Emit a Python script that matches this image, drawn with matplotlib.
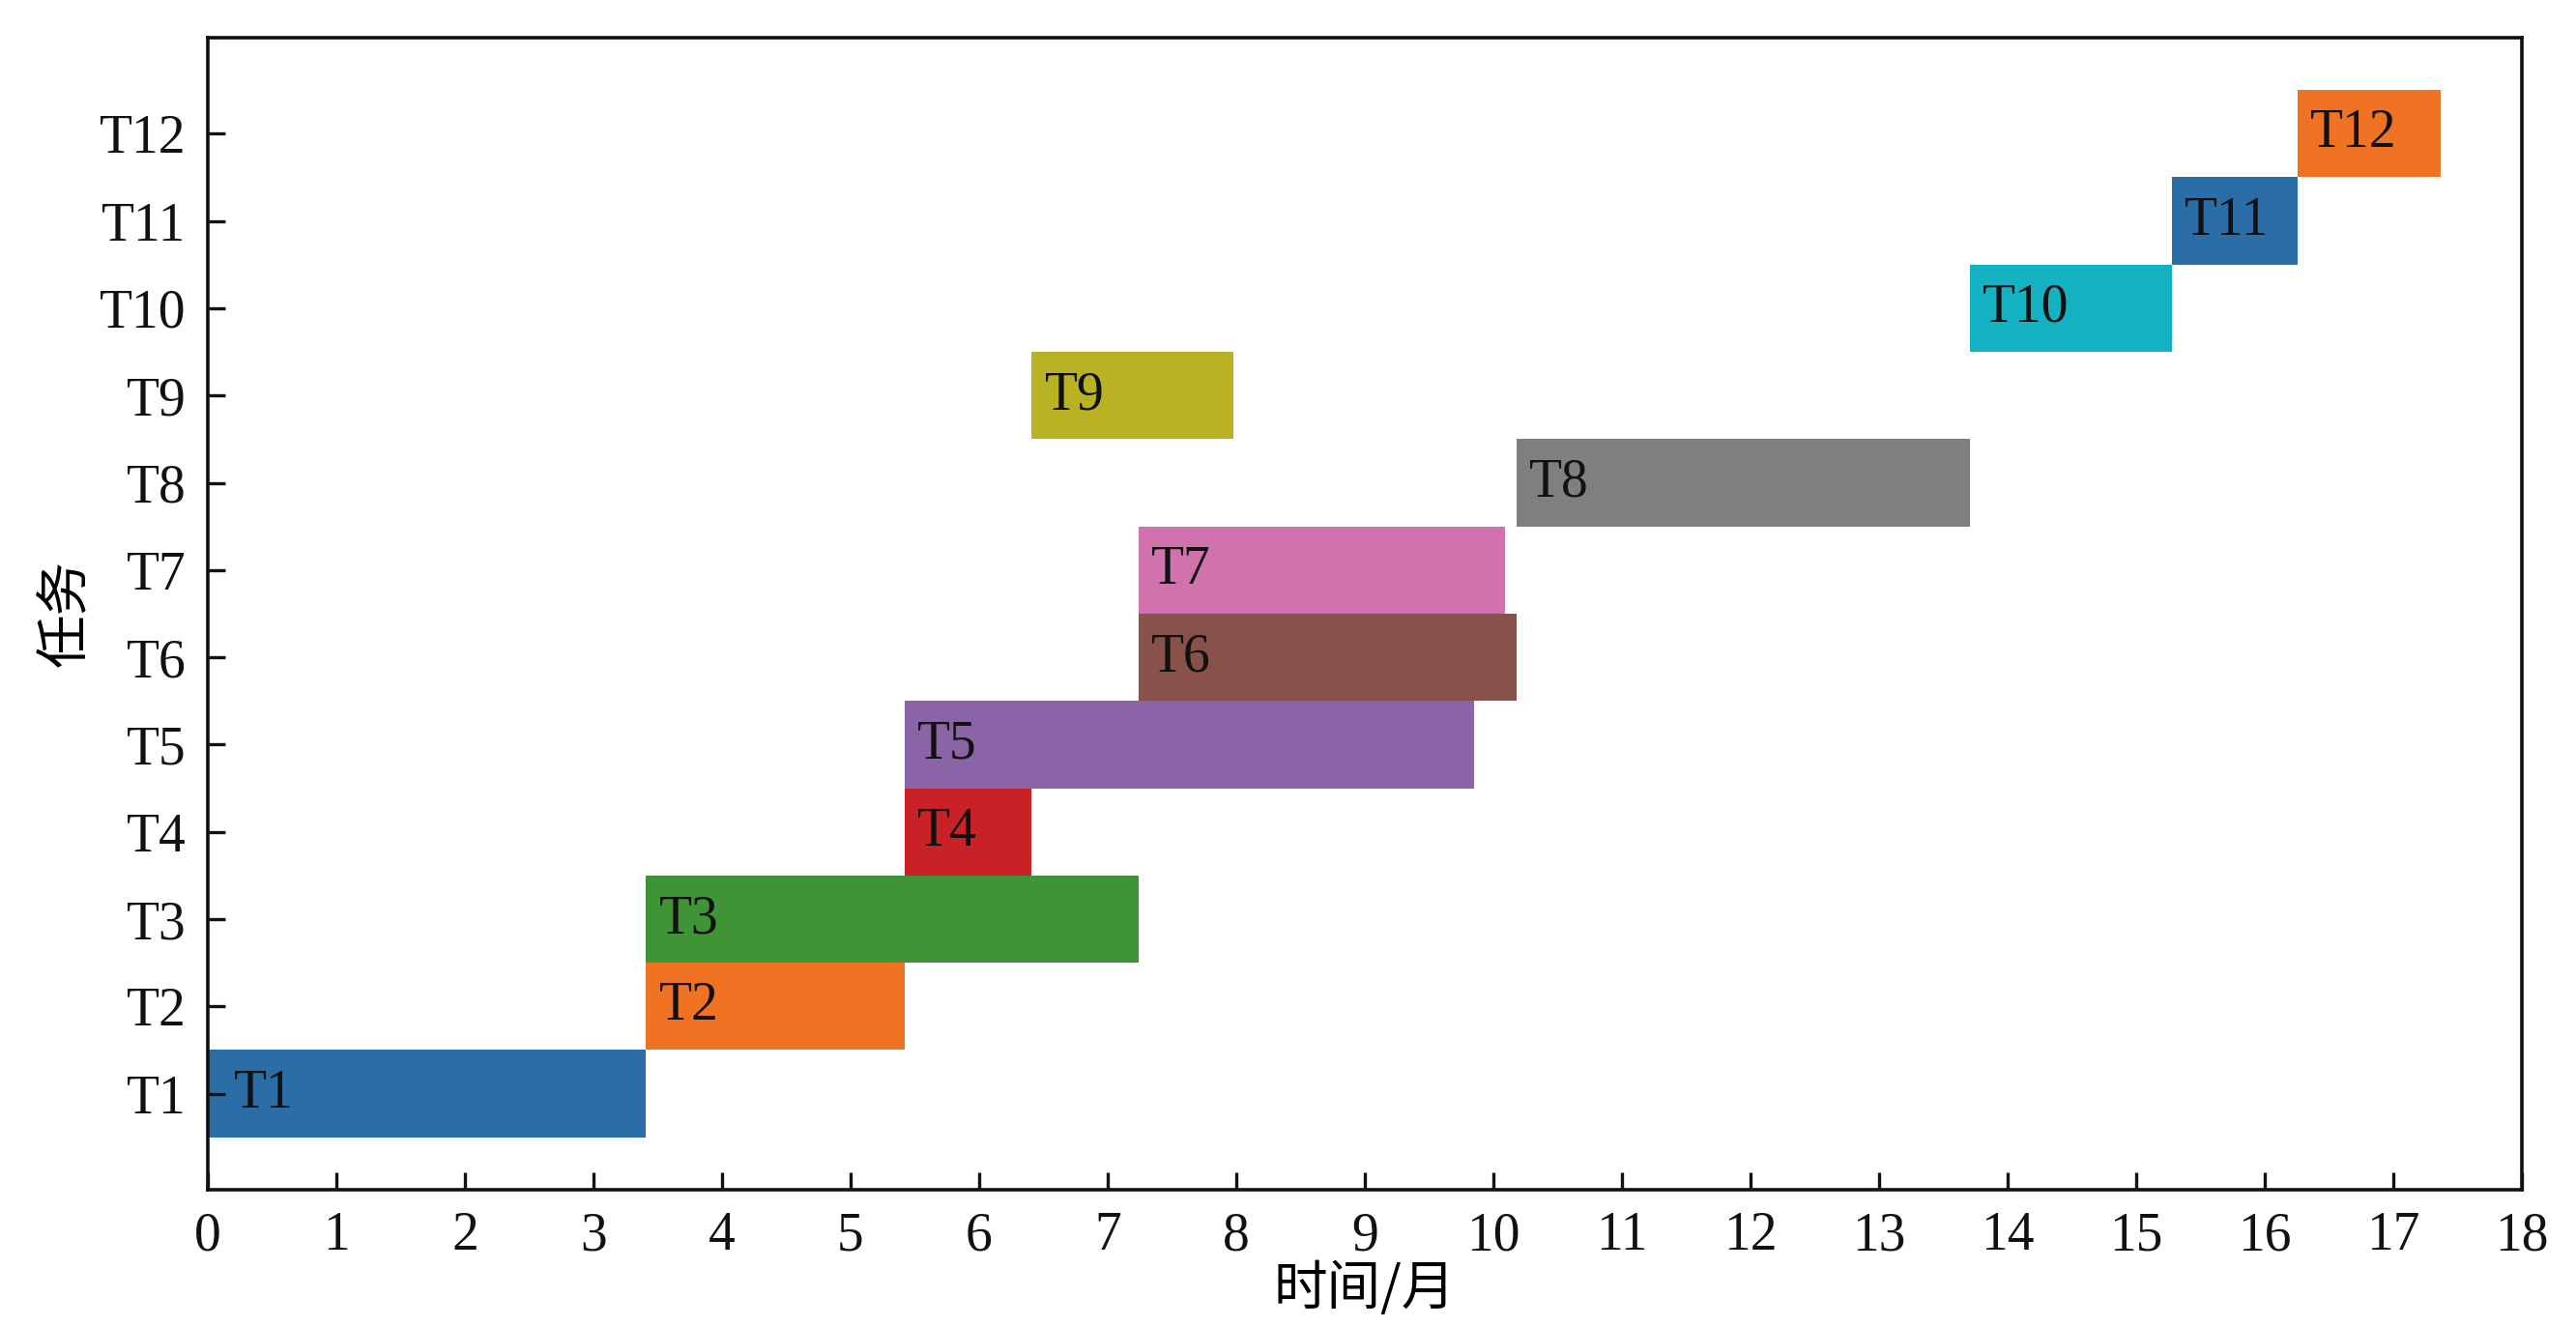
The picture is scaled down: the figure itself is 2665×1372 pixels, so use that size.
import matplotlib
matplotlib.use("Agg")
import matplotlib.pyplot as plt

plt.rcParams['font.family'] = ['Liberation Serif', 'Noto Sans CJK SC', 'DejaVu Sans']

tasks = ["T1", "T2", "T3", "T4", "T5", "T6", "T7", "T8", "T9", "T10", "T11", "T12"]
starts = [0.0, 3.41, 3.41, 5.42, 5.42, 7.24, 7.24, 10.18, 6.41, 13.71, 15.28, 16.26]
ends = [3.41, 5.42, 7.24, 6.41, 9.85, 10.18, 10.09, 13.71, 7.98, 15.28, 16.26, 17.37]
colors = ["#2b6ea7", "#f07323", "#3f9535", "#c82228", "#8b64a8", "#88514a",
          "#d073ac", "#807f80", "#b9b324", "#12b2c3", "#2b6ea7", "#f07323"]
xticks = list(range(0, 19))

fig = plt.figure(figsize=(13.325, 6.86), dpi=200)
ax = fig.add_axes([0.0807, 0.1028, 0.8981, 0.8688])

ypos = list(range(1, len(tasks) + 1))
for y, s, e, c, t in zip(ypos, starts, ends, colors, tasks):
    ax.barh(y, e - s, left=s, height=1.0, color=c, edgecolor='none')
    ax.text(s + (0.2 if s == 0 else 0.1), y, t, ha='left', va='center',
            fontsize=20, color='#111111')

ax.set_xlim(0, 18)
ax.set_ylim(-0.1, 13.1)
ax.set_xticks(xticks)
ax.set_yticks(ypos)
ax.set_yticklabels(tasks)
ax.tick_params(axis='both', direction='in', length=6.5, width=1.2,
               labelsize=20, pad=8, colors='#111111')
for sp in ax.spines.values():
    sp.set_linewidth(1.3)
    sp.set_color('#111111')

ax.set_xlabel("时间/月", fontsize=20, family=['Noto Sans CJK SC', 'DejaVu Sans'], labelpad=0)
ax.set_ylabel("任务", fontsize=20, family=['Noto Sans CJK SC', 'DejaVu Sans'], labelpad=2)

fig.savefig("out.png", dpi=200)
